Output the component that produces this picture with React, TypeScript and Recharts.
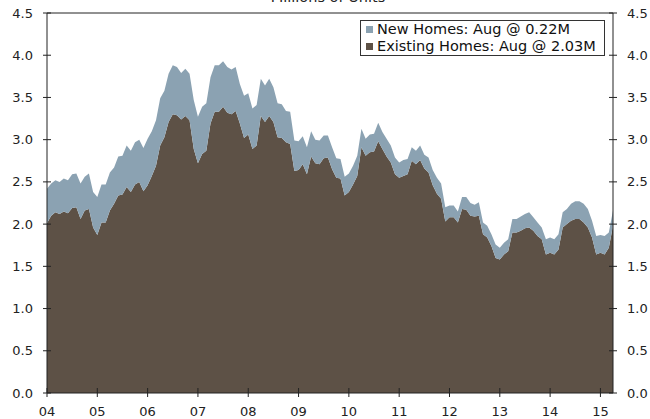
import React from 'react';
import { AreaChart, Area, XAxis, YAxis, ReferenceLine, Legend } from 'recharts';

// Monthly, starting January 2004 (millions of units, SAAR)
const startYear = 2004;

const existingHomes = [
  2.01, 2.10, 2.14, 2.12, 2.15, 2.13, 2.19, 2.20, 2.06, 2.16, 2.18, 1.96,
  1.87, 2.02, 2.02, 2.16, 2.24, 2.34, 2.35, 2.44, 2.38, 2.47, 2.50, 2.39,
  2.46, 2.57, 2.69, 2.93, 3.03, 3.21, 3.30, 3.29, 3.24, 3.28, 3.23, 2.89,
  2.72, 2.83, 2.87, 3.19, 3.33, 3.33, 3.39, 3.32, 3.30, 3.34, 3.19, 3.02,
  3.06, 2.89, 2.93, 3.28, 3.21, 3.28, 3.21, 3.03, 3.02, 2.97, 2.95, 2.63,
  2.64, 2.71, 2.59, 2.80, 2.72, 2.71, 2.78, 2.79, 2.65, 2.55, 2.54, 2.34,
  2.38, 2.47, 2.57, 2.91, 2.81, 2.85, 2.86, 2.98, 2.89, 2.80, 2.73, 2.59,
  2.55, 2.57, 2.59, 2.75, 2.71, 2.76, 2.66, 2.61, 2.46, 2.36, 2.30, 2.03,
  2.08, 2.08, 2.02, 2.18, 2.17, 2.10, 2.09, 2.10, 1.88, 1.84, 1.74, 1.60,
  1.58, 1.64, 1.68, 1.90, 1.90, 1.92, 1.95, 1.96, 1.92, 1.86, 1.82, 1.64,
  1.66, 1.64, 1.70, 1.96, 2.00, 2.04, 2.06, 2.06, 2.02, 1.96, 1.84, 1.64,
  1.66, 1.64, 1.72, 1.98,
];

const newHomes = [
  0.41, 0.38, 0.38, 0.38, 0.39, 0.39, 0.40, 0.40, 0.42, 0.40, 0.42, 0.42,
  0.45, 0.45, 0.45, 0.45, 0.43, 0.46, 0.46, 0.49, 0.49, 0.50, 0.50, 0.51,
  0.55, 0.53, 0.54, 0.56, 0.55, 0.57, 0.58, 0.57, 0.55, 0.56, 0.55, 0.58,
  0.55, 0.56, 0.56, 0.55, 0.55, 0.55, 0.54, 0.54, 0.53, 0.52, 0.47, 0.50,
  0.49, 0.48, 0.48, 0.44, 0.43, 0.44, 0.41, 0.40, 0.40, 0.37, 0.38, 0.36,
  0.34, 0.33, 0.32, 0.30, 0.28, 0.28, 0.27, 0.26, 0.26, 0.23, 0.23, 0.22,
  0.22, 0.22, 0.24, 0.22, 0.20, 0.21, 0.21, 0.22, 0.20, 0.21, 0.20, 0.20,
  0.18, 0.19, 0.18, 0.16, 0.16, 0.17, 0.16, 0.18, 0.18, 0.19, 0.18, 0.17,
  0.14, 0.14, 0.13, 0.14, 0.15, 0.15, 0.14, 0.16, 0.14, 0.14, 0.14, 0.16,
  0.14, 0.14, 0.14, 0.16, 0.16, 0.17, 0.17, 0.18, 0.16, 0.16, 0.14, 0.18,
  0.18, 0.18, 0.18, 0.18, 0.18, 0.20, 0.21, 0.21, 0.22, 0.22, 0.20, 0.22,
  0.21, 0.22, 0.18, 0.18,
];

const yearLabels = ['04', '05', '06', '07', '08', '09', '10', '11', '12', '13', '14', '15'];
const yTicks = [0, 0.5, 1, 1.5, 2, 2.5, 3, 3.5, 4, 4.5];

const seriesNames = {
  newHomes: 'New Homes: Aug @ 0.22M',
  existing: 'Existing Homes: Aug @ 2.03M',
};
const titleText = 'Millions of Units';

const data = existingHomes.map((v, i) => ({
  t: i,
  month: `${startYear + Math.floor(i / 12)}-${String((i % 12) + 1).padStart(2, '0')}`,
  existing: v,
  newHomes: newHomes[i],
}));
const xTicks = yearLabels.map((_, k) => k * 12);

const FONT = '"DejaVu Sans", Verdana, sans-serif';
const AXIS = '#222';
const EXIST_COLOR = '#5D5146';
const NEW_COLOR = '#8BA2B2';

const LeftTick = (props: any) => {
  const { x, y, payload } = props;
  return (
    <g>
      <line x1={x - 4} x2={x + 4} y1={y} y2={y} stroke={AXIS} />
      <text x={x - 14} y={y} dy={4.6} textAnchor="end" fontSize={13} fontFamily={FONT} fill="#222">
        {Number(payload.value).toFixed(1)}
      </text>
    </g>
  );
};

const RightTick = (props: any) => {
  const { x, y, payload } = props;
  return (
    <g>
      <line x1={x - 4} x2={x + 4} y1={y} y2={y} stroke={AXIS} />
      <text x={x + 14} y={y} dy={4.6} textAnchor="start" fontSize={13} fontFamily={FONT} fill="#222">
        {Number(payload.value).toFixed(1)}
      </text>
    </g>
  );
};

const BottomTick = (props: any) => {
  const { x, y, payload } = props;
  const label = yearLabels[Math.round(payload.value / 12)];
  return (
    <g>
      <line x1={x} x2={x} y1={y - 5} y2={y + 4} stroke={AXIS} />
      <text x={x} y={y + 23} textAnchor="middle" fontSize={13} fontFamily={FONT} fill="#222">
        {label}
      </text>
    </g>
  );
};

const LegendBox = () => (
  <div
    style={{
      border: '1px solid #333',
      background: '#fff',
      padding: '0 8px 0 5px',
      fontFamily: FONT,
      fontSize: 14.5,
      lineHeight: '17px',
      color: '#111',
      whiteSpace: 'nowrap',
    }}
  >
    {[
      { name: seriesNames.newHomes, color: NEW_COLOR },
      { name: seriesNames.existing, color: EXIST_COLOR },
    ].map((it) => (
      <div key={it.name} style={{ display: 'flex', alignItems: 'center', height: 17 }}>
        <span style={{ display: 'inline-block', width: 7, height: 7, background: it.color, marginRight: 4 }} />
        <span>{it.name}</span>
      </div>
    ))}
  </div>
);

export default function App() {
  return (
    <div style={{ position: 'absolute', left: 0, top: 0, width: 650, height: 419, background: '#fff' }}>
      <div
        style={{
          position: 'absolute',
          left: 0,
          width: 656,
          top: -11,
          textAlign: 'center',
          fontFamily: FONT,
          fontSize: 14.5,
          lineHeight: '17px',
          color: '#222',
        }}
      >
        {titleText}
      </div>
      <AreaChart
        width={650}
        height={419}
        data={data}
        margin={{ top: 13, right: 0, bottom: 0, left: 0 }}
      >
        <XAxis
          dataKey="t"
          type="number"
          domain={[0, 135]}
          ticks={xTicks}
          interval={0}
          height={26}
          tickSize={0}
          tickMargin={0}
          tick={<BottomTick />}
          axisLine={{ stroke: AXIS }}
          tickLine={false}
        />
        <YAxis
          yAxisId="left"
          orientation="left"
          domain={[0, 4.5]}
          ticks={yTicks}
          interval={0}
          width={47}
          tickSize={0}
          tickMargin={0}
          tick={<LeftTick />}
          axisLine={{ stroke: AXIS }}
          tickLine={false}
        />
        <YAxis
          yAxisId="right"
          orientation="right"
          type="number"
          domain={[0, 4.5]}
          ticks={yTicks}
          interval={0}
          width={37}
          tickSize={0}
          tickMargin={0}
          tick={<RightTick />}
          axisLine={{ stroke: AXIS }}
          tickLine={false}
        />
        <Area
          yAxisId="left"
          type="linear"
          dataKey="existing"
          name={seriesNames.existing}
          stackId="homes"
          stroke="none"
          fill={EXIST_COLOR}
          fillOpacity={1}
          isAnimationActive={false}
        />
        <Area
          yAxisId="left"
          type="linear"
          dataKey="newHomes"
          name={seriesNames.newHomes}
          stackId="homes"
          stroke="none"
          fill={NEW_COLOR}
          fillOpacity={1}
          isAnimationActive={false}
        />
        <Area
          yAxisId="right"
          type="linear"
          dataKey="existing"
          stroke="none"
          fill="none"
          fillOpacity={0}
          legendType="none"
          isAnimationActive={false}
        />
        <ReferenceLine yAxisId="left" y={4.5} stroke={AXIS} />
        <Legend
          layout="vertical"
          align="center"
          verticalAlign="middle"
          content={() => <LegendBox />}
          wrapperStyle={{ position: 'absolute', left: 360, top: 20, width: 'auto', height: 'auto' }}
        />
      </AreaChart>
    </div>
  );
}
